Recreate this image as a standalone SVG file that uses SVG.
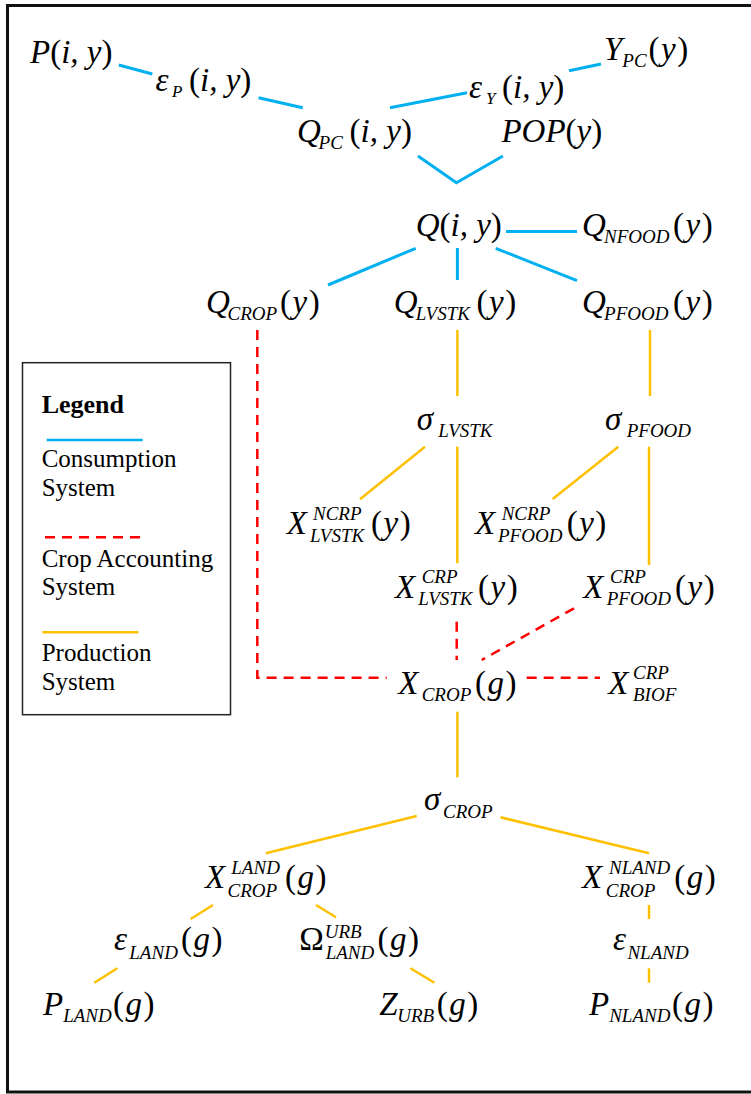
<svg xmlns="http://www.w3.org/2000/svg" width="751" height="1094" viewBox="0 0 751 1094">
<style>
text{font-family:"Liberation Serif","Times New Roman",serif;fill:#000}
.b{font-size:33px;font-style:italic}
.a{font-size:33px;font-style:italic;letter-spacing:1.5px}
.u{font-style:normal}
.s{font-size:19px;font-style:italic}
.ss{font-size:17px;font-style:italic}
.lg{font-size:25px}
.lgb{font-size:26px;font-weight:bold}
.c{stroke:#00B0F0;stroke-width:3;fill:none}
.r{stroke:#FF0000;stroke-width:2.5;fill:none;stroke-dasharray:10 7}
.o{stroke:#FFC000;stroke-width:2.5;fill:none}
</style>
<rect width="751" height="1094" fill="#fff"/>
<path d="M760 5.5H7.5V1092H760" fill="none" stroke="#111" stroke-width="3"/>

<g id="legend">
<rect x="22.5" y="362.7" width="208" height="352" fill="none" stroke="#222" stroke-width="1.5"/>
<text class="lgb" x="41.7" y="413">Legend</text>
<line class="c" x1="46.7" y1="440" x2="142.7" y2="440" style="stroke-width:2.5"/>
<text class="lg" x="41.7" y="467">Consumption</text>
<text class="lg" x="41.7" y="496">System</text>
<line class="r" x1="45" y1="537.3" x2="141.7" y2="537.3"/>
<text class="lg" x="41.7" y="566.5">Crop Accounting</text>
<text class="lg" x="41.7" y="595">System</text>
<line class="o" x1="42.3" y1="632.3" x2="138.3" y2="632.3"/>
<text class="lg" x="41.7" y="661">Production</text>
<text class="lg" x="41.7" y="689.5">System</text>
</g>

<g id="connectors">
<line class="c" x1="118.8" y1="65" x2="152.3" y2="74"/>
<line class="c" x1="258.6" y1="97.7" x2="302.7" y2="107.7"/>
<line class="c" x1="390" y1="107.7" x2="467" y2="92.7"/>
<line class="c" x1="569" y1="70.7" x2="601" y2="64"/>
<polyline class="c" points="418,156 456.4,182.7 502.9,156"/>
<line class="c" x1="506" y1="231.5" x2="577" y2="231.5"/>
<line class="c" x1="415.7" y1="248.3" x2="328" y2="285"/>
<line class="c" x1="457.4" y1="248" x2="457.4" y2="280"/>
<line class="c" x1="495.7" y1="248.3" x2="577" y2="280.7"/>

<polyline class="r" points="257.3,330 257.3,677.7 386.7,677.7"/>
<line class="r" x1="456.7" y1="621.7" x2="456.7" y2="660"/>
<line class="r" x1="574" y1="608.3" x2="481.7" y2="660"/>
<line class="r" x1="526.7" y1="677.7" x2="600" y2="677.7"/>

<line class="o" x1="457.4" y1="330" x2="457.4" y2="396"/>
<line class="o" x1="650" y1="330" x2="650" y2="396"/>
<line class="o" x1="425" y1="446.7" x2="360" y2="499.3"/>
<line class="o" x1="457.3" y1="446.7" x2="457.3" y2="563.3"/>
<line class="o" x1="618.3" y1="446.7" x2="552.7" y2="499"/>
<line class="o" x1="649" y1="446.7" x2="649" y2="565"/>
<line class="o" x1="457.4" y1="711.7" x2="457.4" y2="777.3"/>
<line class="o" x1="416.7" y1="816" x2="265.8" y2="853.3"/>
<line class="o" x1="500.5" y1="817.3" x2="649" y2="853.3"/>
<line class="o" x1="213" y1="905" x2="190.6" y2="919"/>
<line class="o" x1="316" y1="905" x2="336" y2="917.3"/>
<line class="o" x1="649" y1="905" x2="649" y2="919"/>
<line class="o" x1="117.3" y1="968.3" x2="94.3" y2="982.7"/>
<line class="o" x1="410.4" y1="968.3" x2="434.4" y2="982.7"/>
<line class="o" x1="649" y1="968.3" x2="649" y2="982.7"/>
</g>

<g id="n-P"><text class="b" x="30" y="63">P<tspan class="u">(</tspan>i, y<tspan class="u">)</tspan></text></g>
<g id="n-eP"><text class="b" x="155.6" y="91">ε</text><text class="ss" x="172" y="97">P</text><text class="b" x="189" y="91"><tspan class="u">(</tspan>i, y<tspan class="u">)</tspan></text></g>
<g id="n-eY"><text class="b" x="469" y="98">ε</text><text class="ss" x="486" y="104">Y</text><text class="b" x="502" y="98"><tspan class="u">(</tspan>i, y<tspan class="u">)</tspan></text></g>
<g id="n-YPC"><text class="b" x="604" y="60">Y<tspan class="s" dy="7">PC</tspan></text><text class="a" x="648.5" y="60"><tspan class="u">(</tspan>y<tspan class="u">)</tspan></text></g>
<g id="n-QPC"><text class="b" x="297" y="142">Q<tspan class="s" dx="-2.3" dy="7">PC</tspan></text><text class="b" x="349.6" y="142"><tspan class="u">(</tspan>i, y<tspan class="u">)</tspan></text></g>
<g id="n-POP"><text class="b" x="501.4" y="142">POP<tspan class="u">(</tspan>y<tspan class="u">)</tspan></text></g>
<g id="n-Q"><text class="b" x="415.7" y="236">Q<tspan class="u">(</tspan>i, y<tspan class="u">)</tspan></text></g>
<g id="n-QNFOOD"><text class="b" x="582" y="236">Q<tspan class="s" dx="-1.8" dy="7">NFOOD</tspan></text><text class="a" x="673" y="236"><tspan class="u">(</tspan>y<tspan class="u">)</tspan></text></g>
<g id="n-QCROP"><text class="b" x="206" y="313">Q<tspan class="s" dx="-2.3" dy="7">CROP</tspan></text><text class="a" x="280" y="313"><tspan class="u">(</tspan>y<tspan class="u">)</tspan></text></g>
<g id="n-QLVSTK"><text class="b" x="393.7" y="313">Q<tspan class="s" dx="-1.8" dy="7">LVSTK</tspan></text><text class="a" x="476.5" y="313"><tspan class="u">(</tspan>y<tspan class="u">)</tspan></text></g>
<g id="n-QPFOOD"><text class="b" x="582" y="313">Q<tspan class="s" dx="-1.8" dy="7">PFOOD</tspan></text><text class="a" x="673" y="313"><tspan class="u">(</tspan>y<tspan class="u">)</tspan></text></g>
<g id="n-sLVSTK"><text class="b" x="416.7" y="430">σ</text><text class="s" x="438.3" y="437">LVSTK</text></g>
<g id="n-sPFOOD"><text class="b" x="605" y="430">σ</text><text class="s" x="626.7" y="437">PFOOD</text></g>
<g id="n-XNCRPLVSTK"><text class="b" x="286.7" y="534">X</text><text class="s" x="313" y="520">NCRP</text><text class="s" x="310" y="542">LVSTK</text><text class="a" x="371" y="534"><tspan class="u">(</tspan>y<tspan class="u">)</tspan></text></g>
<g id="n-XNCRPPFOOD"><text class="b" x="475" y="534">X</text><text class="s" x="501.7" y="520">NCRP</text><text class="s" x="498" y="542">PFOOD</text><text class="a" x="566.7" y="534"><tspan class="u">(</tspan>y<tspan class="u">)</tspan></text></g>
<g id="n-XCRPLVSTK"><text class="b" x="395" y="598">X</text><text class="s" x="421.7" y="583">CRP</text><text class="s" x="418.3" y="605">LVSTK</text><text class="a" x="478" y="598"><tspan class="u">(</tspan>y<tspan class="u">)</tspan></text></g>
<g id="n-XCRPPFOOD"><text class="b" x="583.3" y="598">X</text><text class="s" x="610" y="583">CRP</text><text class="s" x="606.7" y="605">PFOOD</text><text class="a" x="675" y="598"><tspan class="u">(</tspan>y<tspan class="u">)</tspan></text></g>
<g id="n-XCROP"><text class="b" x="398.3" y="694">X</text><text class="s" x="421.7" y="701">CROP</text><text class="a" x="475" y="694"><tspan class="u">(</tspan>g<tspan class="u">)</tspan></text></g>
<g id="n-XBIOF"><text class="b" x="608.3" y="694">X</text><text class="s" x="633" y="679">CRP</text><text class="s" x="633" y="701">BIOF</text></g>
<g id="n-sCROP"><text class="b" x="423.9" y="810">σ</text><text class="s" x="443" y="818">CROP</text></g>
<g id="n-XLAND"><text class="b" x="205" y="888">X</text><text class="s" x="231.3" y="874">LAND</text><text class="s" x="227.5" y="897">CROP</text><text class="a" x="285" y="888"><tspan class="u">(</tspan>g<tspan class="u">)</tspan></text></g>
<g id="n-XNLAND"><text class="b" x="582" y="888">X</text><text class="s" x="609" y="874">NLAND</text><text class="s" x="605.8" y="897">CROP</text><text class="a" x="674.3" y="888"><tspan class="u">(</tspan>g<tspan class="u">)</tspan></text></g>
<g id="n-eLAND"><text class="b" x="114" y="950">ε</text><text class="s" x="129.3" y="959">LAND</text><text class="a" x="181" y="950"><tspan class="u">(</tspan>g<tspan class="u">)</tspan></text></g>
<g id="n-Omega"><text class="b u" x="299.3" y="950">Ω</text><text class="s" x="324.7" y="938">URB</text><text class="s" x="325.7" y="959">LAND</text><text class="a" x="377.4" y="950"><tspan class="u">(</tspan>g<tspan class="u">)</tspan></text></g>
<g id="n-eNLAND"><text class="b" x="613" y="950">ε</text><text class="s" x="627.4" y="959">NLAND</text></g>
<g id="n-PLAND"><text class="b" x="43" y="1015">P<tspan class="s" dy="7">LAND</tspan></text><text class="a" x="113" y="1015"><tspan class="u">(</tspan>g<tspan class="u">)</tspan></text></g>
<g id="n-ZURB"><text class="b" x="379.3" y="1015">Z<tspan class="s" dx="-0.5" dy="7">URB</tspan></text><text class="a" x="436.8" y="1015"><tspan class="u">(</tspan>g<tspan class="u">)</tspan></text></g>
<g id="n-PNLAND"><text class="b" x="589" y="1015">P<tspan class="s" dy="7">NLAND</tspan></text><text class="a" x="672" y="1015"><tspan class="u">(</tspan>g<tspan class="u">)</tspan></text></g>
</svg>
